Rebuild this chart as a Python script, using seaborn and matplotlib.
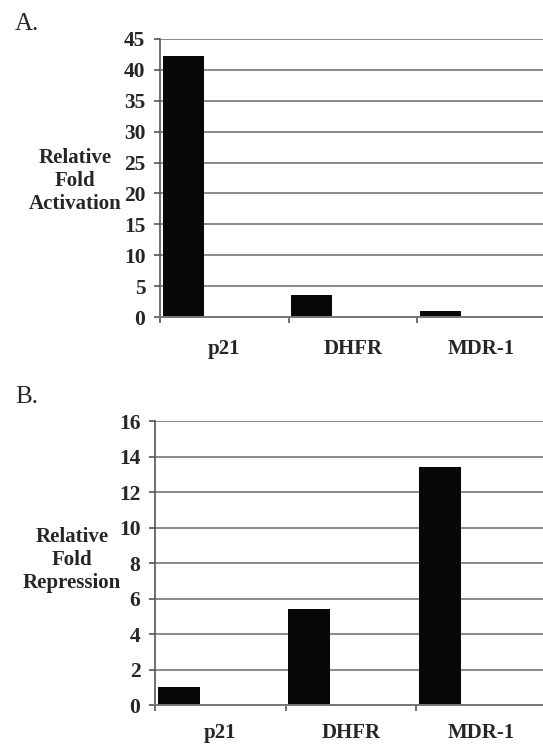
import seaborn as sns
import matplotlib.pyplot as plt
import pandas as pd
from matplotlib.ticker import FixedLocator

genes = ['p21', 'DHFR', 'MDR-1']
activation = [42.2, 3.5, 1.0]
repression = [1.0, 5.4, 13.4]
series = ['s1', 's2', 's3']   # Excel-style: only first series filled

sns.set_style('white')
plt.rcParams['font.family'] = ['Liberation Serif', 'DejaVu Serif']


def make_df(vals):
    rows = []
    for g, v in zip(genes, vals):
        rows.append({'gene': g, 'series': 's1', 'value': v})
        rows.append({'gene': g, 'series': 's2', 'value': 0.0})
        rows.append({'gene': g, 'series': 's3', 'value': 0.0})
    return pd.DataFrame(rows)


def style_axis(ax, ymax, step, ylabel, xpad):
    ax.set_ylim(0, ymax)
    ax.set_xlim(-0.5, 2.5)
    ax.set_yticks(range(0, ymax + 1, step))
    ax.yaxis.grid(True, color='#8a8a8a', linewidth=1.4)
    ax.set_axisbelow(True)
    for s in ['top', 'right']:
        ax.spines[s].set_visible(False)
    ax.spines['left'].set_color('#555555')
    ax.spines['bottom'].set_color('#777777')
    ax.spines['left'].set_linewidth(1.2)
    ax.spines['bottom'].set_linewidth(1.4)
    ax.tick_params(axis='y', which='major', length=4.5, width=1.2, color='#555555',
                   direction='out', pad=6, labelsize=15.5, left=True)
    ax.tick_params(axis='x', which='major', length=0, pad=xpad, labelsize=15)
    ax.xaxis.set_minor_locator(FixedLocator([-0.5, 0.5, 1.5, 2.5]))
    ax.tick_params(axis='x', which='minor', length=4.5, width=1.2, color='#555555',
                   direction='out', bottom=True)
    for lab in ax.get_xticklabels() + ax.get_yticklabels():
        lab.set_fontweight('bold')
    ax.set_xlabel('')
    ax.set_ylabel(ylabel, rotation=0, fontsize=15, fontweight='bold',
                  ha='center', va='center', linespacing=1.2)
    legend = ax.get_legend()
    if legend is not None:
        legend.remove()


fig = plt.figure(figsize=(5.43, 7.44), dpi=100)
ax1 = fig.add_axes([0.2947, 0.5739, 0.71, 0.3737])
ax2 = fig.add_axes([0.2855, 0.0524, 0.721, 0.3817])

sns.barplot(data=make_df(activation), x='gene', y='value', hue='series',
            hue_order=series, order=genes, palette=['#080808'] * 3,
            width=0.955, linewidth=0, errorbar=None, ax=ax1)
style_axis(ax1, 45, 5, 'Relative\nFold\nActivation', 16)
ax1.yaxis.set_label_coords(-0.22, 0.49)

sns.barplot(data=make_df(repression), x='gene', y='value', hue='series',
            hue_order=series, order=genes, palette=['#080808'] * 3,
            width=0.955, linewidth=0, errorbar=None, ax=ax2)
style_axis(ax2, 16, 2, 'Relative\nFold\nRepression', 13)
ax2.yaxis.set_label_coords(-0.212, 0.51)

fig.text(0.028, 0.968, 'A.', fontsize=18, ha='left', va='center')
fig.text(0.028, 0.466, 'B.', fontsize=18, ha='left', va='center')

plt.savefig('out.png', dpi=100)
